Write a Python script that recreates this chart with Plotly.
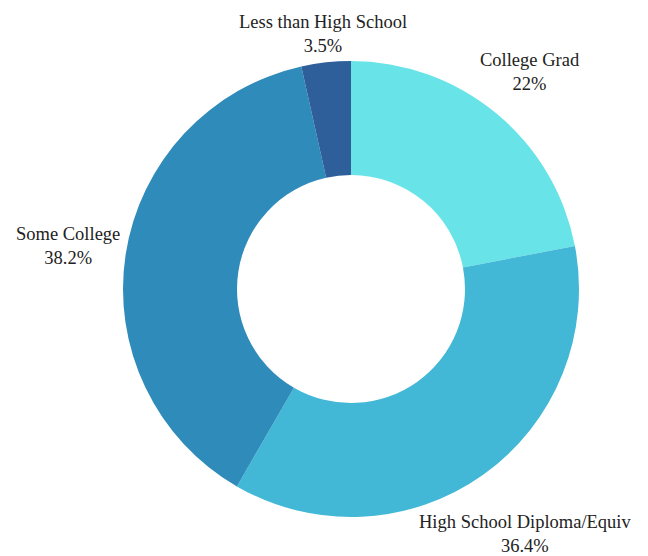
import math
import plotly.graph_objects as go

# Educational attainment shares
categories = ["College Grad", "High School Diploma/Equiv", "Some College", "Less than High School"]
values = [22.0, 36.4, 38.2, 3.5]
colors = ["#68e4e8", "#42b7d6", "#2e8bba", "#2e5f9a"]

W, H = 648, 556
serif = "Times New Roman, Liberation Serif, Times, serif"
FONT_SIZE = 18.5
TEXT_COLOR = "#222222"

# Donut placement (pixels): centre and outer radius
CX, CY, R = 351, 289, 228
LABEL_GAP = 4            # clearance between ring edge and label box
LINE_H = 23              # label line height
CHAR_W = 0.465 * FONT_SIZE  # average glyph width estimate

dom_x = [(CX - R) / W, (CX + R) / W]
dom_y = [(H - CY - R) / H, (H - CY + R) / H]

fig = go.Figure(
    go.Pie(
        labels=categories,
        values=values,
        hole=0.5,
        sort=False,
        direction="clockwise",
        rotation=0,
        textinfo="none",
        marker=dict(colors=colors, line=dict(width=0)),
        domain=dict(x=dom_x, y=dom_y),
        showlegend=False,
    )
)


def box_distance(x, y, a, b):
    dx = max(abs(x) - a, 0.0)
    dy = max(abs(y) - b, 0.0)
    return math.hypot(dx, dy)


# Outside labels: each box sits on its slice's mid-angle ray, just clear of the ring
total = sum(values)
cum = 0.0
annotations = []
for name, v in zip(categories, values):
    mid = (cum + v / 2) / total * 2 * math.pi
    cum += v
    ux, uy = math.sin(mid), -math.cos(mid)  # screen direction (y down)
    pct = f"{v / total * 100:.3g}%"
    a = CHAR_W * max(len(name), len(pct)) / 2
    b = LINE_H
    lo, hi = 0.0, 2 * R
    for _ in range(60):
        d = (lo + hi) / 2
        if box_distance(d * ux, d * uy, a, b) < R + LABEL_GAP:
            lo = d
        else:
            hi = d
    px, py = CX + lo * ux, CY + lo * uy
    annotations.append(
        dict(
            text=f"{name}<br>{pct}",
            x=px / W,
            y=1 - py / H,
            xref="paper",
            yref="paper",
            xanchor="center",
            yanchor="middle",
            showarrow=False,
            align="center",
            font=dict(family=serif, size=FONT_SIZE, color=TEXT_COLOR),
        )
    )

fig.update_layout(
    width=W,
    height=H,
    paper_bgcolor="#ffffff",
    plot_bgcolor="#ffffff",
    margin=dict(l=0, r=0, t=0, b=0),
    font=dict(family=serif, size=FONT_SIZE, color=TEXT_COLOR),
    annotations=annotations,
)

fig.write_html("out.html")
